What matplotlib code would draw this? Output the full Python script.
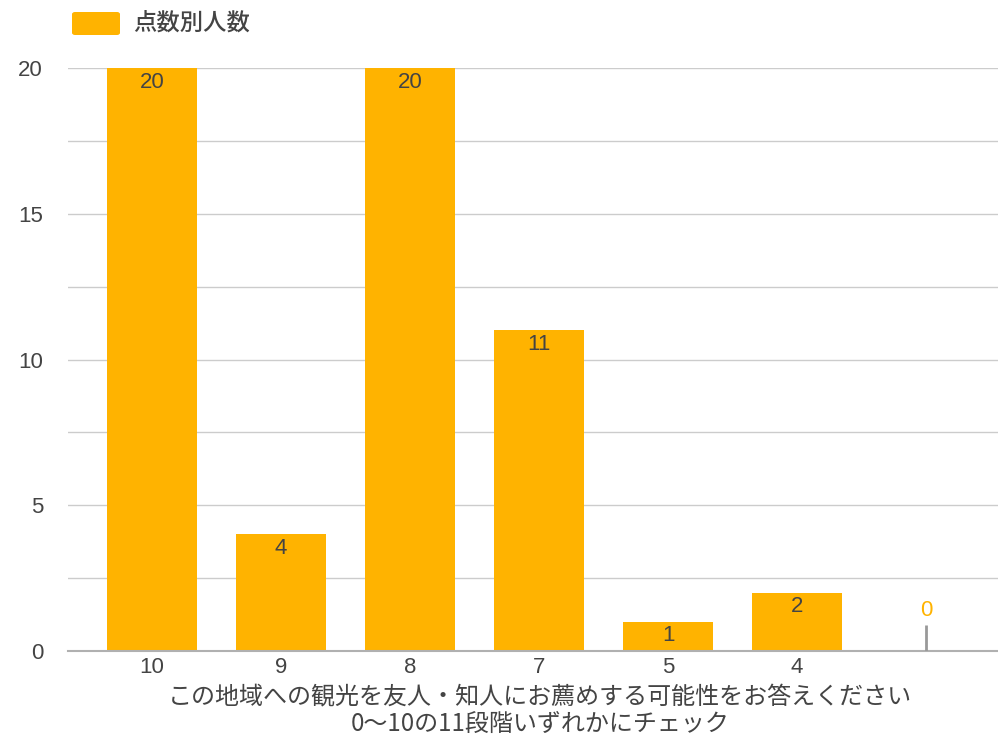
import matplotlib.pyplot as plt
from matplotlib.patches import FancyBboxPatch

plt.rcParams['font.family'] = ['Liberation Sans', 'Noto Sans CJK JP', 'DejaVu Sans']

categories = ['10', '9', '8', '7', '5', '4', '']
counts = [20, 4, 20, 11, 1, 2, 0]
legend_label = '点数別人数'
xlabel_lines = ['この地域への観光を友人・知人にお薦めする可能性をお答えください',
                '0〜10の11段階いずれかにチェック']

bar_color = '#ffb300'
text_color = '#444444'
cjk = ['Noto Sans CJK JP', 'Liberation Sans']

fig = plt.figure(figsize=(9.98, 7.38), dpi=100)
W, H = 998, 738
ax = fig.add_axes([68 / W, 1 - 651 / H, (998 - 68) / W, (651 - 68) / H])

x = list(range(len(categories)))
ax.bar(x, counts, width=0.70, color=bar_color, zorder=2)

ax.set_ylim(0, 20)
ax.set_xlim(-0.651, 6.558)
ax.set_yticks([0, 5, 10, 15, 20])
ax.set_yticks([2.5, 7.5, 12.5, 17.5], minor=True)
ax.grid(axis='y', which='both', color='#cccccc', linewidth=1, zorder=0)
ax.set_xticks(x)
ax.set_xticklabels(categories)
ax.tick_params(axis='both', which='both', length=0, labelsize=16, colors=text_color)
ax.tick_params(axis='y', pad=18)
ax.tick_params(axis='x', pad=4)
for s in ['top', 'right', 'left']:
    ax.spines[s].set_visible(False)
ax.spines['bottom'].set_color('#b0b0b0')
ax.spines['bottom'].set_linewidth(1.5)
ax.spines['bottom'].set_zorder(3)

px = 583 / 20  # pixels per unit
for i, v in enumerate(counts):
    if v > 0:
        ax.text(i, v - 14 / px, str(v), ha='center', va='center', fontsize=16,
                color=text_color, zorder=4)
    else:
        ax.vlines(i, 0, 26 / px, color='#999999', linewidth=2, zorder=4)
        ax.text(i, 40 / px, str(v), ha='center', va='center', fontsize=16,
                color=bar_color, zorder=4)

# legend
fig.patches.append(FancyBboxPatch((72 / W, 1 - 35 / H), 48 / W, 23 / H,
                                  boxstyle='round,pad=0,rounding_size=0.003',
                                  transform=fig.transFigure, facecolor=bar_color,
                                  edgecolor='none'))
fig.text(133 / W, 1 - 23 / H, legend_label, ha='left', va='center',
         fontsize=16.8, color=text_color, fontweight='medium', family=cjk)

fig.text(540 / W, 1 - 697 / H, xlabel_lines[0], ha='center', va='center',
         fontsize=17.3, color=text_color, family=cjk)
fig.text(540 / W, 1 - 724 / H, xlabel_lines[1], ha='center', va='center',
         fontsize=17.3, color=text_color, family=cjk)

fig.savefig('out.png', dpi=100)
